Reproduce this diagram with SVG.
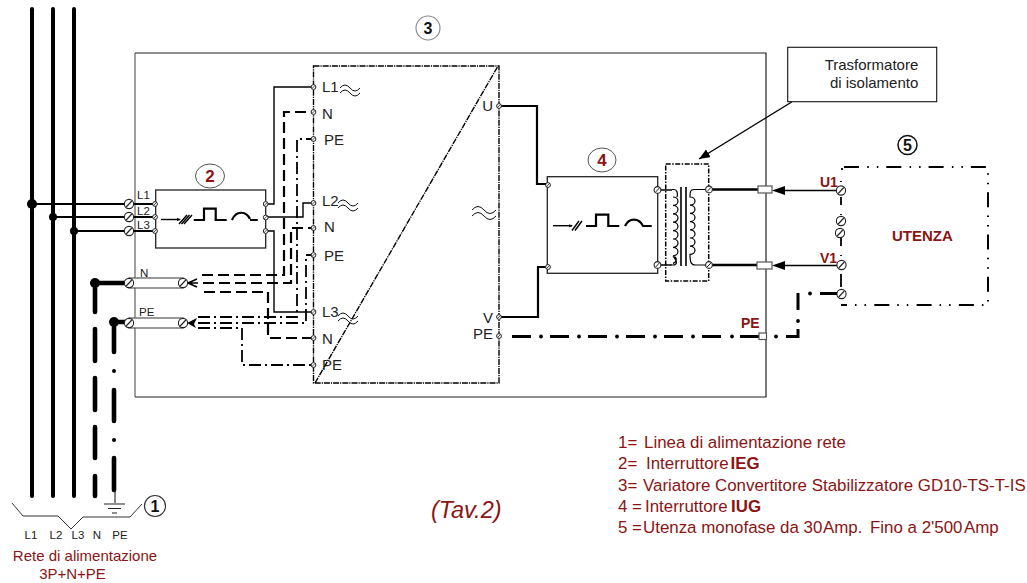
<svg xmlns="http://www.w3.org/2000/svg" width="1027" height="583" viewBox="0 0 1027 583">
<style>
text{font-family:"Liberation Sans",Arial,sans-serif;fill:#222}
.r{fill:#8b1414}
.lg{font-size:16.900px;fill:#8b1414}
.rt{font-size:15px;fill:#8b1414}
.b{font-weight:bold}
.t{font-size:15px}
.s{font-size:11.500px}
.w{fill:none;stroke:#000;stroke-width:1.400}
.w2{fill:none;stroke:#000;stroke-width:2.200}
.n{fill:none;stroke:#000;stroke-width:2.200;stroke-dasharray:11 5}
.p{fill:none;stroke:#000;stroke-width:1.800;stroke-dasharray:12 4 2 4}
.bd{fill:none;stroke:#000;stroke-width:1.400;stroke-dasharray:6 1 1.200 1}
.thick{fill:none;stroke:#000;stroke-width:4;stroke-linecap:round}
.th5{fill:none;stroke:#000;stroke-width:4.600;stroke-linecap:round}
.u{fill:none;stroke:#000;stroke-width:2;stroke-dasharray:15 8.300 1.500 8 1.500 8}
.box{fill:#fff;stroke:#222;stroke-width:1.300}
.tube{fill:#fff;stroke:#555;stroke-width:1.200}
.tl{fill:none;stroke:#111;stroke-width:1}
</style>
<defs>
<g id="screw"><circle r="4.600" fill="#fff" stroke="#222" stroke-width="1.100"/><path d="M-2.800,3 L2.800,-3" stroke="#222" stroke-width="1.100"/></g>
<g id="sm"><circle r="3.400" fill="#fff" stroke="#222" stroke-width="1.100"/><path d="M-2,2.200 L2,-2.200" stroke="#222" stroke-width="1"/></g>
<g id="tn"><circle r="2.400" fill="#fff" stroke="#222" stroke-width="1"/><path d="M-1.600,1.600 L1.600,-1.600" stroke="#222" stroke-width=".8"/></g>
<marker id="ah" markerUnits="userSpaceOnUse" markerWidth="12" markerHeight="10" refX="11" refY="4.500" orient="auto"><path d="M0,0 L11,4.500 L0,9 Z" fill="#000"/></marker>
<path id="wave" d="M0,0 q5,-6 10,0 t10,0 M0,5 q5,-6 10,0 t10,0" class="tl"/>
</defs>
<rect width="1027" height="583" fill="#fff"/>

<g id="node-3">
<path d="M135,397 V53" fill="none" stroke="#777" stroke-width="1.400"/>
<path d="M135,53 H766 V397 H135" fill="none" stroke="#222" stroke-width="1.200"/>
<circle cx="428" cy="28" r="12" fill="#fff" stroke="#888" stroke-width="1.100"/>
<text x="428" y="34" text-anchor="middle" font-size="16" class="b" style="fill:#111">3</text>
</g>

<g id="connectors">
<path class="thick" d="M32,9 V496 M53,9 V496 M74,9 V496"/>
<path class="w2" d="M32,204 H124 M53,217 H124 M74,231 H124"/>
<path class="w2" d="M134,204 H155 M134,217 H155 M134,231 H155"/>
<path class="th5" d="M95,283 H125 M95,283 V312 M95,329 V361 M95,378 V410 M95,427 V458 M95,476 V496"/>
<path class="th5" d="M114,322 H125 M114,322 V352 M114,390 V421 M114,458 V490"/>
<circle cx="114" cy="371" r="2" fill="#000"/><circle cx="114" cy="440" r="2" fill="#000"/>
<path class="w" d="M265.700,204 H274 V87 H313 M265.700,217 H303 V203 H313 M265.700,231 H274 V312 H313"/>
<path class="n" d="M202,275 H284 V112 H313"/>
<path class="n" d="M203,283 H291 V228 H313"/>
<path class="n" d="M313,338 H268 V292 H202"/>
<path class="p" d="M198,317 H297 V139 H313"/>
<path class="p" d="M198,323 H306 V255 H313"/>
<path class="p" d="M198,328 H242 V365 H313"/>
<path fill="none" stroke="#000" stroke-width="1.600" d="M188,283 L197,279 M188,283 H198 M188,283 L197,287"/>
<path fill="#000" d="M187,323 L197,318 L194,324 L196,328 Z"/>
<path class="w2" d="M501,106 H537 V184 H548 M501,317 H538 V267 H548"/>
<path class="w" d="M660,190 H672 M660,265 H672"/>
<path fill="none" stroke="#000" stroke-width="2.400" d="M709,189.500 H759 M709,265 H757"/>
<path class="w" d="M841,190.500 H785 M841,265.500 H785"/>
<path fill="#000" d="M772,190.500 L785,186 V195 Z M772,265.500 L785,261 V270 Z"/>
<path stroke="#000" stroke-width="3.200" fill="none" stroke-dasharray="19 19" d="M512,336.500 H759"/>
<g fill="#000"><circle cx="541" cy="336.500" r="1.900"/><circle cx="579" cy="336.500" r="1.900"/><circle cx="617" cy="336.500" r="1.900"/><circle cx="655" cy="336.500" r="1.900"/><circle cx="693" cy="336.500" r="1.900"/><circle cx="732" cy="336.500" r="1.900"/><circle cx="776" cy="336.500" r="1.900"/><circle cx="798" cy="321" r="1.900"/><circle cx="810" cy="293.500" r="1.900"/></g>
<path fill="none" stroke="#000" stroke-width="3" d="M786,336.500 H798 V329 M798,310 V293 M820,293.500 H838"/>
<path class="w" d="M791.700,102 L699,159" marker-end="url(#ah)"/>
</g>

<g id="node-bus-label">
<path d="M12,503 L23,516 H58 L71,529 L83,517 H130 L142,504" fill="none" stroke="#333" stroke-width="1"/>
<path d="M115,490 V503 M104,504 H125 M108,508.500 H121 M112,513 H117" stroke="#222" stroke-width="1.100" fill="none"/>
<g class="s"><text x="31" y="539" text-anchor="middle">L1</text><text x="56" y="539" text-anchor="middle">L2</text><text x="78" y="539" text-anchor="middle">L3</text><text x="97" y="539" text-anchor="middle">N</text><text x="120" y="539" text-anchor="middle">PE</text></g>
<text x="85" y="561" text-anchor="middle" class="rt">Rete di alimentazione</text>
<text x="72.500" y="579" text-anchor="middle" class="rt">3P+N+PE</text>
<circle cx="155" cy="506" r="10.500" fill="#fff" stroke="#333" stroke-width="1.200"/>
<text x="155" y="512" text-anchor="middle" font-size="16" class="b" style="fill:#111">1</text>
</g>

<g id="junctions">
<circle cx="32" cy="204" r="5" fill="#000"/><circle cx="53" cy="217" r="4" fill="#000"/><circle cx="74" cy="231" r="4" fill="#000"/>
<circle cx="95" cy="283" r="5" fill="#000"/><circle cx="114" cy="322" r="5" fill="#000"/>
</g>

<g id="node-terminals-in">
<rect class="tube" x="129" y="278" width="54" height="10"/>
<rect class="tube" x="129" y="318" width="54" height="10"/>
<use href="#screw" x="129" y="204"/><use href="#screw" x="129" y="217"/><use href="#screw" x="129" y="231"/>
<use href="#screw" x="129" y="283"/><use href="#screw" x="183" y="283"/><use href="#screw" x="129" y="323"/><use href="#screw" x="183" y="323"/>
<g class="s"><text x="137" y="199">L1</text><text x="137" y="215">L2</text><text x="137" y="229">L3</text><text x="140" y="277">N</text><text x="139" y="316">PE</text></g>
</g>

<g id="node-2">
<rect class="box" x="155.700" y="190" width="110" height="58"/>
<path class="w" d="M161,219.500 H180"/><path fill="#000" d="M181,219.500 L177,218 V221 Z"/>
<path class="w" d="M179,224 L187,215 M181.500,224 L189.500,215 M184,224 L192,215"/>
<path class="w2" d="M193.700,220 H204 V208.700 H215.700 V220 H226.700 M232,220 C236,210.500 246,210.500 250,219 M250,220 H257.700"/>
<use href="#tn" x="155" y="204"/><use href="#tn" x="155" y="217"/><use href="#tn" x="155" y="231"/>
<use href="#tn" x="265.700" y="204"/><use href="#tn" x="265.700" y="217.500"/><use href="#tn" x="265.700" y="231"/>
<ellipse cx="210" cy="176" rx="14.500" ry="12" fill="#fff" stroke="#555" stroke-width="1"/>
<text x="210" y="182" text-anchor="middle" font-size="17" class="b r">2</text>
</g>

<g id="node-converter">
<path class="bd" d="M313.500,66 H499 V383 H313.500 Z M315,383 L498,66"/>
<use href="#wave" x="340" y="88"/><use href="#wave" x="338" y="203"/><use href="#wave" x="338" y="316"/>
<path class="tl" d="M472,210 q6,-7 12,0 t12,0 M472,216 q6,-7 12,0 t12,0"/>
<g class="t"><text x="322" y="92">L1</text><text x="322" y="118.500">N</text><text x="324" y="145">PE</text><text x="322" y="206">L2</text><text x="324" y="232">N</text><text x="324" y="261">PE</text><text x="322" y="317">L3</text><text x="322" y="344">N</text><text x="322" y="370">PE</text>
<text x="493" y="111" text-anchor="end">U</text><text x="493" y="323" text-anchor="end">V</text><text x="493" y="339" text-anchor="end">PE</text></g>
<use href="#tn" x="313.500" y="87"/><use href="#tn" x="313.500" y="112"/><use href="#tn" x="313.500" y="139"/><use href="#tn" x="313.500" y="203"/><use href="#tn" x="313.500" y="228"/><use href="#tn" x="313.500" y="255"/><use href="#tn" x="313.500" y="312"/><use href="#tn" x="313.500" y="338"/><use href="#tn" x="313.500" y="365"/>
<use href="#tn" x="499" y="106"/><use href="#tn" x="499" y="317"/><use href="#tn" x="499" y="336"/>
</g>

<g id="node-4">
<rect class="box" x="547.300" y="176.700" width="110.400" height="96.600"/>
<path class="w" d="M553,225.700 H572"/><path fill="#000" d="M573,225.700 L569,224.200 V227.200 Z"/>
<path class="w" d="M572,230.500 L579,221 M575,230.500 L582,221"/>
<path class="w2" d="M586,226 H596 V214.700 H608.300 V226 H619.300 M625,226 C629,217.500 639,217.500 643,226 H651.700"/>
<use href="#tn" x="548" y="185"/><use href="#tn" x="548" y="267"/>
<use href="#sm" x="657.500" y="190"/><use href="#sm" x="657.500" y="265"/>
<ellipse cx="602" cy="160" rx="14" ry="12" fill="#fff" stroke="#555" stroke-width="1"/>
<text x="602" y="166" text-anchor="middle" font-size="17" class="b r">4</text>
</g>

<g id="node-transformer">
<rect x="665.700" y="164" width="43" height="117" fill="none" stroke="#000" stroke-width="1.500" stroke-dasharray="5 1.500 1.500 1.500"/>
<path class="w" d="M672,189.500 H674 C677,189.500 678,193 677,197 M673,197 a5,4.200 0 0 1 0,8.400 a5,4.200 0 0 1 0,8.400 a5,4.200 0 0 1 0,8.400 a5,4.200 0 0 1 0,8.400 a5,4.200 0 0 1 0,8.400 a5,4.200 0 0 1 0,8.400 a5,4.200 0 0 1 0,8.400 a5,4 0 0 1 0,7.500 M673,256 C678,262 677,265 673,265 H672" style="stroke-width:1.200"/>
<path class="w" d="M707,189.500 H694 C690,189.500 690,192 690,197 a5,4.100 0 0 1 0,8.200 a5,4.100 0 0 1 0,8.200 a5,4.100 0 0 1 0,8.200 a5,4.100 0 0 1 0,8.200 a5,4.100 0 0 1 0,8.200 a5,4.100 0 0 1 0,8.200 a5,4.100 0 0 1 0,8.200 C690,262 691,265 695,265 H707" style="stroke-width:1.200"/>
<path fill="none" stroke="#000" stroke-width="1.600" d="M681,187 V266 M686,187 V266"/>
<use href="#sm" x="709" y="189.500"/><use href="#sm" x="709" y="265"/>
</g>

<g id="node-label-transformer">
<rect x="787.700" y="47.300" width="149" height="54.400" fill="#fff" stroke="#111" stroke-width="1.100"/>
<text x="918.300" y="70" text-anchor="end" class="t">Trasformatore</text>
<text x="918.300" y="88" text-anchor="end" class="t">di isolamento</text>
</g>

<g id="node-plugs">
<rect class="tube" x="758" y="186" width="14" height="7"/>
<rect class="tube" x="757" y="262" width="15" height="7"/>
<rect class="tube" x="759" y="333" width="7.500" height="6.500"/>
<text x="741" y="328" font-size="14" class="b r">PE</text>
</g>

<g id="node-5">
<path class="u" d="M844,167 H988 V305 H841"/>
<path fill="none" stroke="#000" stroke-width="1.800" d="M841,197 V205 M841,238 V246 M841,274 V287 M842,168 V170 M841,181 V182 M841,214 V215 M841,255 V256"/>
<use href="#screw" x="841" y="190.500"/><use href="#screw" x="841" y="221"/><use href="#screw" x="840" y="233"/><use href="#screw" x="841.500" y="265"/><use href="#screw" x="841.500" y="294"/>
<text x="820" y="187" font-size="14" class="b r">U1</text>
<text x="820" y="263" font-size="14" class="b r">V1</text>
<text x="892" y="241" font-size="15" class="b r">UTENZA</text>
<circle cx="907.500" cy="145" r="9.500" fill="#fff" stroke="#111" stroke-width="1.500"/>
<text x="907.500" y="151" text-anchor="middle" font-size="16" class="b" style="fill:#111">5</text>
</g>

<g id="legend">
<text x="618" y="448" class="lg">1=</text><text x="644" y="448" class="lg">Linea di alimentazione rete</text>
<text x="618" y="469" class="lg">2=</text><text x="646" y="469" class="lg">Interruttore</text><text x="730.500" y="469" class="lg b">IEG</text>
<text x="618" y="491" class="lg">3=</text><text x="643" y="491" class="lg">Variatore Convertitore Stabilizzatore GD10-TS-T-IS</text>
<text x="618" y="512" class="lg">4 =</text><text x="645" y="512" class="lg">Interruttore</text><text x="731" y="512" class="lg b">IUG</text>
<text x="618" y="533" class="lg">5 =</text><text x="643" y="533" class="lg">Utenza monofase da 30</text><text x="823" y="533" class="lg">Amp.</text><text x="870" y="533" class="lg">Fino a 2'500</text><text x="964" y="533" class="lg">Amp</text>
<text x="431" y="518" font-size="23.500" font-style="italic" class="r">(Tav.2)</text>
</g>
</svg>
